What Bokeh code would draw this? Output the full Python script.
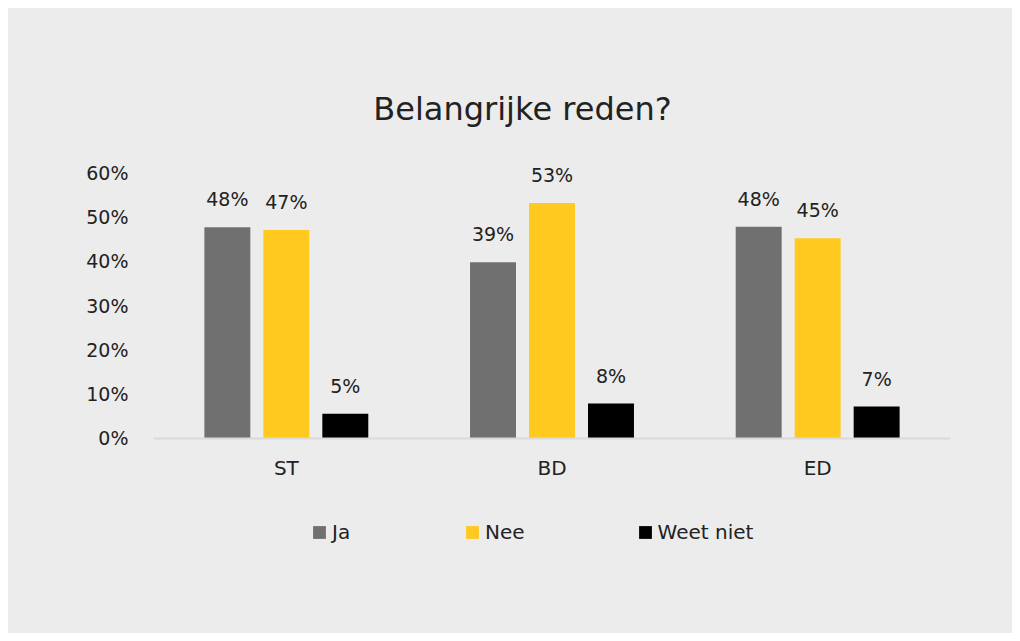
from bokeh.plotting import figure
from bokeh.layouts import column, row
from bokeh.models import (ColumnDataSource, FactorRange, Range1d, FixedTicker, Spacer,
                          LabelSet, Label, Legend, LegendItem, NumeralTickFormatter)
from bokeh.transform import dodge
from bokeh.core.properties import value
from bokeh.embed import file_html
from bokeh.resources import INLINE

# ---- data ----
title_text = "Belangrijke reden?"
categories = ["ST", "BD", "ED"]
series_names = ["Ja", "Nee", "Weet niet"]
ja = [0.477, 0.398, 0.478]
nee = [0.471, 0.532, 0.452]
weet_niet = [0.056, 0.079, 0.072]
ja_labels = ["48%", "39%", "48%"]
nee_labels = ["47%", "53%", "45%"]
weet_niet_labels = ["5%", "8%", "7%"]
y_ticks = [0.0, 0.1, 0.2, 0.3, 0.4, 0.5, 0.6]

colors = ["#707070", "#FFC91F", "#000000"]
BG = "#ececec"
TXT = "#222222"
FONT = "DejaVu Sans"

source = ColumnDataSource(dict(
    cat=categories,
    ja=ja, nee=nee, weet_niet=weet_niet,
    ja_lbl=ja_labels, nee_lbl=nee_labels, weet_niet_lbl=weet_niet_labels,
))

p = figure(
    width=1004, height=625,
    x_range=FactorRange(*categories, range_padding=0),
    y_range=Range1d(-0.4403, 0.9709),
    output_backend="svg", toolbar_location=None, title=None,
    min_border_left=145, min_border_right=62, min_border_top=0, min_border_bottom=0,
)
p.styles = {"background-color": BG}
p.background_fill_color = None
p.border_fill_color = None
p.outline_line_color = None
p.xgrid.grid_line_color = None
p.ygrid.grid_line_color = None

offsets = [-0.222, 0.0, 0.222]
fields = ["ja", "nee", "weet_niet"]
renderers = []
for off, f, c in zip(offsets, fields, colors):
    r = p.vbar(x=dodge("cat", off, range=p.x_range), top=f, width=0.173,
               source=source, fill_color=c, line_color=None)
    renderers.append(r)
    lbls = LabelSet(x=dodge("cat", off, range=p.x_range), y=f, text=f + "_lbl",
                    source=source, text_align="center", text_baseline="alphabetic",
                    y_offset=21, text_font=value(FONT), text_font_size="19px",
                    text_color=TXT)
    p.add_layout(lbls)

# axes
p.yaxis.ticker = FixedTicker(ticks=y_ticks)
p.yaxis.formatter = NumeralTickFormatter(format="0%")
p.yaxis.axis_line_color = None
p.yaxis.major_tick_line_color = None
p.yaxis.minor_tick_line_color = None
p.yaxis.major_tick_out = 0
p.yaxis.major_tick_in = 0
p.yaxis.major_label_standoff = 25
p.yaxis.major_label_text_font = FONT
p.yaxis.major_label_text_font_size = "19px"
p.yaxis.major_label_text_color = TXT

p.xaxis.fixed_location = 0
p.xaxis.axis_line_color = "#d9d9d9"
p.xaxis.axis_line_width = 2
p.xaxis.major_tick_line_color = None
p.xaxis.major_tick_out = 0
p.xaxis.major_tick_in = 0
p.xaxis.major_label_standoff = 18
p.xaxis.major_label_text_font = FONT
p.xaxis.major_label_text_font_size = "20px"
p.xaxis.major_label_text_color = TXT

# title
p.add_layout(Label(x=369, y=525, x_units="screen", y_units="screen", text=title_text,
                   text_align="center", text_baseline="middle", text_font=FONT,
                   text_font_size="32px", text_color=TXT))

# legend
legend = Legend(items=[LegendItem(label=n, renderers=[r]) for n, r in zip(series_names, renderers)],
                orientation="horizontal", location=(158, 89),
                glyph_width=16, glyph_height=16, label_standoff=5, spacing=112,
                padding=0, margin=0, label_height=20,
                label_text_font=FONT, label_text_font_size="20px", label_text_color=TXT,
                background_fill_alpha=0, border_line_color=None)
p.add_layout(legend, "center")

layout = column(Spacer(height=8), row(Spacer(width=8), p))
open("out.html", "w").write(file_html(layout, INLINE))
